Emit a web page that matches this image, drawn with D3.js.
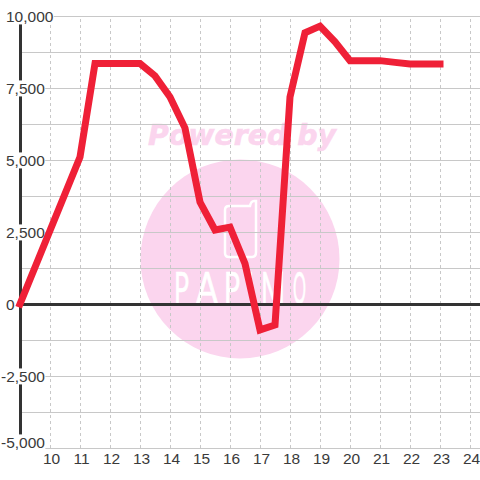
<!DOCTYPE html>
<html>
<head>
<meta charset="utf-8">
<script src="https://cdn.jsdelivr.net/npm/d3@7"></script>
<style>
  html, body { margin: 0; padding: 0; background: #fff; }
  svg { display: block; font-family: "Liberation Sans", Arial, sans-serif; }
  .grid line { stroke: #c8c8c8; }
  .grid path { display: none; }
  .tick-labels path, .tick-labels line { display: none; }
  .tick-labels text { font-size: 15.5px; fill: #3a3a3a; }
</style>
</head>
<body>
<script>
// values
var hours = [9, 11, 11.5, 12, 12.5, 13, 13.5, 14, 14.5, 15, 15.5, 16, 16.5, 17, 17.5, 18, 18.5, 19, 19.5, 20, 20.5, 21, 21.5, 22, 22.5, 23];
var diff = [0, 5100, 8350, 8350, 8350, 8350, 7920, 7190, 6110, 3540, 2570, 2670, 1400, -900, -730, 7190, 9420, 9650, 9100, 8450, 8450, 8450, 8390, 8330, 8330, 8330];
var xTicks = [10, 11, 12, 13, 14, 15, 16, 17, 18, 19, 20, 21, 22, 23, 24];
var yMajor = [10000, 7500, 5000, 2500, 0, -2500, -5000];
var yMinor = [8750, 6250, 3750, 1250, -1250, -3750];
var logoLetters = ["P", "A", "P", "I", "M", "O"];

var width = 480, height = 480;

var xScale = d3.scaleLinear().domain([9, 24]).range([20, 470]);
var yScale = d3.scaleLinear().domain([-5000, 10000]).range([448, 16]);

var svg = d3.select("body").append("svg")
  .attr("width", width)
  .attr("height", height);

// watermark
var mark = svg.append("g").attr("class", "watermark");
mark.append("circle")
  .attr("cx", 240).attr("cy", 259).attr("r", 99.5)
  .attr("fill", "#fbd5ee");
mark.append("text")
  .attr("x", 148).attr("y", 145)
  .attr("font-family", "'DejaVu Sans', sans-serif")
  .attr("font-size", 28.4)
  .attr("font-weight", "bold")
  .attr("font-style", "italic")
  .attr("fill", "#fbd5ee")
  .attr("stroke", "#fbd5ee")
  .attr("stroke-width", 0.6)
  .text("Powered by");
mark.append("path")
  .attr("d", "M229 206 H250 Q251 201 254 201 H256 V252 Q256 257 252 257 H229 Q225 257 225 253 V210 Q225 206 229 206 Z")
  .attr("fill", "none")
  .attr("stroke", "#fff")
  .attr("stroke-width", 2.5);
mark.selectAll("text.logo")
  .data(logoLetters)
  .enter().append("text")
  .attr("class", "logo")
  .attr("x", function(d, i) { return [174, 196, 224, 249, 261, 293][i]; })
  .attr("y", 304)
  .attr("textLength", function(d, i) { return [15, 22, 16, 4, 24, 13][i]; })
  .attr("lengthAdjust", "spacingAndGlyphs")
  .attr("font-family", "Lato, sans-serif")
  .attr("font-weight", 400)
  .attr("font-size", 44)
  .attr("fill", "#fff")
  .attr("stroke", "#fff")
  .attr("stroke-width", 0.7)
  .text(function(d) { return d; });

// vertical dotted grid
svg.append("g")
  .attr("class", "grid")
  .attr("transform", "translate(0,448)")
  .call(d3.axisBottom(xScale).tickValues(xTicks).tickSize(-432).tickFormat(""))
  .selectAll("line")
  .attr("stroke-dasharray", "3,3");

// horizontal grid
svg.append("g")
  .attr("class", "grid")
  .attr("transform", "translate(20,0)")
  .call(d3.axisRight(yScale).tickValues(yMajor.concat(yMinor)).tickSize(460).tickFormat(""));

// y axis line and zero line
svg.append("line")
  .attr("x1", xScale(9) + 0.5).attr("x2", xScale(9) + 0.5)
  .attr("y1", yScale(10000)).attr("y2", yScale(-5000))
  .attr("stroke", "#333").attr("stroke-width", 3);
svg.append("line")
  .attr("x1", xScale(9)).attr("x2", width)
  .attr("y1", yScale(0) + 0.5).attr("y2", yScale(0) + 0.5)
  .attr("stroke", "#333").attr("stroke-width", 3);

// y labels sit on a white box that cuts the axis and the grid
var commaFormat = d3.format(",");
var yLabels = svg.append("g")
  .attr("class", "tick-labels")
  .attr("transform", "translate(6,0)")
  .call(d3.axisRight(yScale).tickValues(yMajor).tickSize(0).tickPadding(0)
    .tickFormat(function(d) { return commaFormat(d).replace("\u2212", "-"); }));

yLabels.selectAll(".tick text")
  .attr("x", function(d) { return d < 0 ? -5 : 0; })
  .attr("y", function(d) { return d == -5000 ? -6 : 0; })
  .attr("dy", "0.35em");

yLabels.selectAll(".tick").each(function(d) {
  if (d == 0) return;
  var t = d3.select(this).select("text");
  var box = t.node().getBBox();
  d3.select(this).insert("rect", "text")
    .attr("x", box.x)
    .attr("y", box.y + 0.5)
    .attr("width", box.width)
    .attr("height", box.height - 1)
    .attr("fill", "#fff");
});

// x labels
svg.append("g")
  .attr("class", "tick-labels")
  .attr("transform", "translate(1,448)")
  .call(d3.axisBottom(xScale).tickValues(xTicks).tickSize(0).tickPadding(5).tickFormat(d3.format("d")));

// the series
var line = d3.line()
  .x(function(d, i) { return xScale(hours[i]); })
  .y(function(d) { return yScale(d); });

svg.append("path")
  .datum(diff)
  .attr("d", line)
  .attr("fill", "none")
  .attr("stroke", "#ef2037")
  .attr("stroke-width", 7)
  .attr("stroke-linejoin", "miter")
  .attr("stroke-linecap", "square");
</script>
</body>
</html>
